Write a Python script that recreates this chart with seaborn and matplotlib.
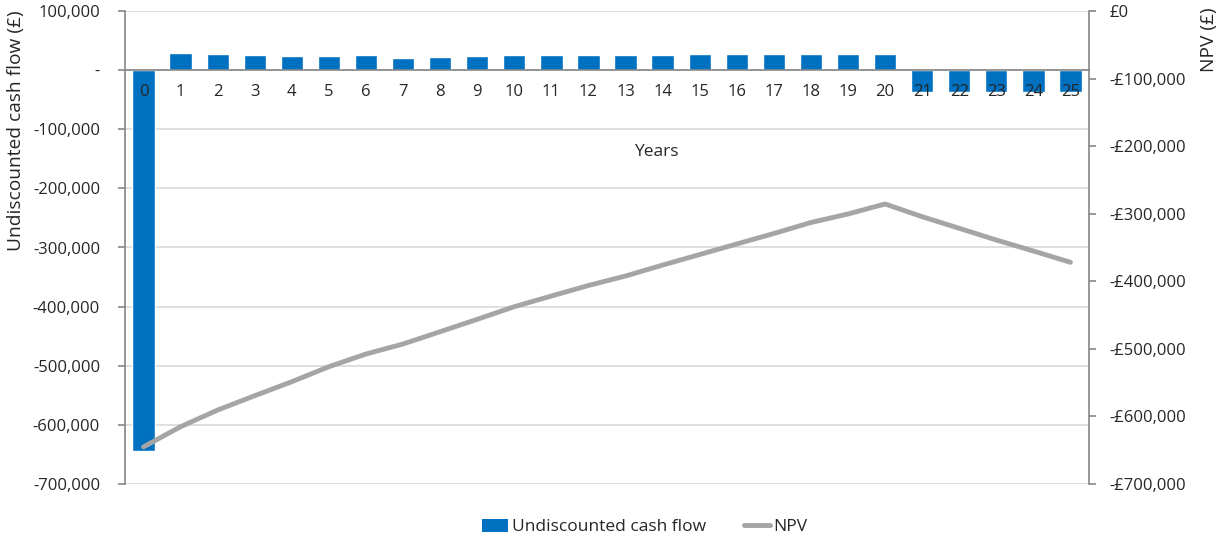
import numpy as np
import pandas as pd
import matplotlib
matplotlib.use('Agg')
import matplotlib.pyplot as plt
from matplotlib.ticker import FuncFormatter, MultipleLocator
from matplotlib.patches import Patch
from matplotlib.lines import Line2D
import seaborn as sns

sns.set_style('white')
plt.rcParams['font.family'] = ['Open Sans', 'DejaVu Sans']

years = list(range(26))
cash_flow = [-645000, 29000, 28000, 25500, 23700, 24700, 25900, 21300, 22500, 23700,
             25400, 25900, 25900, 25900, 26400, 27600, 27600, 27600, 28100, 27600,
             27600, -37200, -37200, -37200, -37200, -37200]
npv = [-645000, -615200, -590500, -569300, -548600, -526400, -507600, -492800, -474600, -456300,
       -437600, -421800, -406200, -392200, -376000, -360400, -344800, -329300, -313000, -300400,
       -285600, -304400, -321600, -338900, -355200, -371900]
left_ticks = list(range(-700000, 100001, 100000))

df = pd.DataFrame({'Year': years, 'Cash': cash_flow, 'NPV': npv})

bar_col = '#0070C0'
line_col = '#A5A5A5'
axis_col = '#868686'
text_col = '#262626'

fig = plt.figure(figsize=(12.19, 5.4), dpi=100)
ax = fig.add_axes([125/1219, 1-484/540, 964/1219, 473/540])

# gridlines behind the bars, tick labels above them
for t in left_ticks:
    ax.axhline(t, color='#D9D9D9', linewidth=1.2, zorder=0)
sns.barplot(data=df, x='Year', y='Cash', color=bar_col, saturation=1, width=0.6, ax=ax, zorder=1)
ax.set_axisbelow(False)
ax.set_xlim(-0.5, 25.5)
ax.set_ylim(-700000, 100000)
ax.set_yticks(left_ticks)
ax.grid(False)

def left_fmt(v, pos):
    if abs(v) < 1:
        return '-'
    return f'{v:,.0f}'
ax.yaxis.set_major_formatter(FuncFormatter(left_fmt))

ax.spines['top'].set_visible(False)
ax.spines['right'].set_visible(False)
ax.spines['bottom'].set_position(('data', 0))
for s in ['left', 'bottom']:
    ax.spines[s].set_color(axis_col)
    ax.spines[s].set_linewidth(1.2)

ax.set_xticks(np.arange(-0.5, 26, 1), minor=True)
ax.tick_params(axis='x', which='major', length=0, pad=10, labelsize=12, labelcolor=text_col)
ax.tick_params(axis='x', which='minor', length=5, width=1.2, color=axis_col, direction='out')
ax.tick_params(axis='y', length=5, width=1.2, color=axis_col, direction='out', pad=13,
               labelsize=12, labelcolor=text_col, left=True)
ax.set_xlabel('Years', fontsize=12.5, color=text_col)
ax.xaxis.set_label_coords(0.551, 0.719)
ax.set_ylabel('Undiscounted cash flow (£)', fontsize=13.8, color=text_col)
ax.yaxis.set_label_coords(-0.104, 0.746)

ax2 = ax.twinx()
sns.lineplot(data=df, x='Year', y='NPV', color=line_col, linewidth=3.5, ax=ax2,
             solid_capstyle='round')
ax2.set_ylim(-700000, 0)
ax2.set_xlim(-0.5, 25.5)
ax2.yaxis.set_major_locator(MultipleLocator(100000))

def right_fmt(v, pos):
    if abs(v) < 1:
        return '£0'
    return f'-£{abs(v):,.0f}'
ax2.yaxis.set_major_formatter(FuncFormatter(right_fmt))
for s in ['top', 'left', 'bottom']:
    ax2.spines[s].set_visible(False)
ax2.spines['right'].set_color(axis_col)
ax2.spines['right'].set_linewidth(1.2)
ax2.tick_params(axis='y', length=5, width=1.2, color=axis_col, direction='out', pad=10,
                labelsize=12, labelcolor=text_col, right=True)
ax2.set_ylabel('NPV (£)', fontsize=13.8, color=text_col)
ax2.yaxis.set_label_coords(1.115, 0.939)

handles = [Patch(facecolor=bar_col, edgecolor='none'),
           Line2D([0], [0], color=line_col, linewidth=3.5, solid_capstyle='round')]
fig.legend(handles, ['Undiscounted cash flow', 'NPV'], loc='center',
           bbox_to_anchor=(0.529, 0.024), ncol=2, frameon=False, fontsize=12.5,
           handlelength=1.5, handleheight=0.8, handletextpad=0.2, columnspacing=2.2,
           labelcolor=text_col)

fig.savefig('out.png', dpi=100)
